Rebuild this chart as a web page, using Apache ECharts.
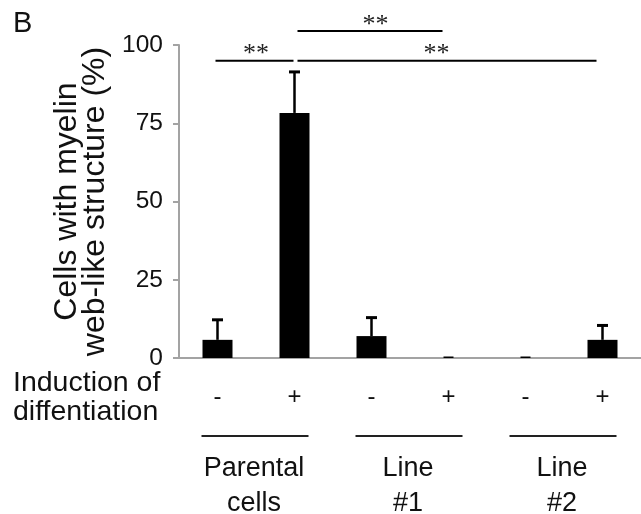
<!DOCTYPE html>
<html>
<head>
<meta charset="utf-8">
<script src="https://cdn.jsdelivr.net/npm/echarts@6/dist/echarts.min.js"></script>
<style>html,body{margin:0;padding:0;background:#fff}#c{width:641px;height:514px}</style>
</head>
<body>
<div id="c"></div>
<script>
// ---- data ----
var categories = ['-', '+', '-', '+', '-', '+'];
var means = [5.8, 78.3, 7.0, 0.4, 0.4, 5.8];
var errors = [6.4, 13.1, 5.9, 0, 0, 4.6];
var yTicks = [0, 25, 50, 75, 100];
var groups = ['Parental\ncells', 'Line\n#1', 'Line\n#2'];
var groupSpans = [[0, 1], [2, 3], [4, 5]];
var sigPairs = [[0, 1], [1, 3], [1, 5]];
var sigLevels = [95, 104.5, 95];
var sigLabels = ['**', '**', '**'];

var FONT = "'Liberation Sans', Arial, Helvetica, sans-serif";
var chart = echarts.init(document.getElementById('c'), null, {renderer: 'canvas'});

var barData = means.map(function (m, i) { return [i, m, errors[i]]; });
var sigData = sigPairs.map(function (p, i) { return [p[0], p[1], sigLevels[i], sigLabels[i]]; });
var groupData = groupSpans.map(function (s, i) { return [s[0], s[1], groups[i]]; });

var option = {
  animation: false,
  backgroundColor: '#fff',
  grid: {left: 179, top: 45, width: 466, height: 313},
  xAxis: {
    type: 'category',
    data: categories,
    axisLine: {lineStyle: {color: '#a3a3a3', width: 2}},
    axisTick: {show: false},
    axisLabel: {color: '#111', fontSize: 24, fontFamily: FONT, margin: 27}
  },
  yAxis: {
    type: 'value',
    min: yTicks[0], max: yTicks[yTicks.length - 1], interval: 25,
    splitLine: {show: false},
    axisLine: {show: true, lineStyle: {color: '#a3a3a3', width: 2}},
    axisTick: {show: true, length: 6, lineStyle: {color: '#a3a3a3', width: 2}},
    axisLabel: {color: '#111', fontSize: 24.5, fontFamily: FONT, margin: 16},
    name: 'Cells with myelin\nweb-like structure (%)',
    nameLocation: 'middle',
    nameRotate: 90,
    nameGap: 66,
    nameTextStyle: {color: '#111', fontSize: 32, fontFamily: FONT, lineHeight: 28}
  },
  graphic: [
    {type: 'text', left: 13, top: 9, style: {text: 'B', fontSize: 29, fontFamily: FONT, fill: '#111'}},
    {type: 'text', left: 13, top: 369, style: {text: 'Induction of\ndiffentiation', fontSize: 28.5, lineHeight: 29, fontFamily: FONT, fill: '#111'}}
  ],
  series: [
    {
      type: 'custom',
      clip: false,
      data: barData,
      renderItem: function (params, api) {
        var i = api.value(0), m = api.value(1), e = api.value(2);
        var base = api.coord([i, 0]);
        var top = api.coord([i, m]);
        var w = m < 1 ? 10 : 30;
        var h = Math.max(base[1] - top[1], 1.5);
        var children = [{
          type: 'rect',
          shape: {x: base[0] - w / 2, y: base[1] - h, width: w, height: h},
          style: {fill: '#000'}
        }];
        if (e > 0) {
          var et = api.coord([i, m + e]);
          children.push({type: 'line', shape: {x1: top[0], y1: top[1], x2: top[0], y2: et[1]}, style: {stroke: '#000', lineWidth: 2.5}});
          children.push({type: 'line', shape: {x1: top[0] - 5.5, y1: et[1], x2: top[0] + 5.5, y2: et[1]}, style: {stroke: '#000', lineWidth: 3}});
        }
        return {type: 'group', children: children};
      }
    },
    {
      type: 'custom',
      clip: false,
      data: sigData,
      renderItem: function (params, api) {
        var a = api.value(0), b = api.value(1), lv = api.value(2);
        var pa = api.coord([a, lv]);
        var pb = api.coord([b, lv]);
        var x1 = pa[0] + (a === 0 ? -2 : 3);
        var x2 = pb[0] - (b === 1 ? 1 : 6);
        var label = sigData[params.dataIndex][3];
        var cx = (pa[0] + pb[0]) / 2 + (b - a > 3 ? -12 : (a > 0 ? 4 : 0));
        return {type: 'group', children: [
          {type: 'line', shape: {x1: x1, y1: pa[1], x2: x2, y2: pa[1]}, style: {stroke: '#000', lineWidth: 2}},
          {type: 'text', x: cx, y: pa[1] - 6,
           style: {text: label, fontSize: 26, fontFamily: "'Liberation Serif', 'Times New Roman', serif", fill: '#222', align: 'center', verticalAlign: 'middle'}}
        ]};
      }
    },
    {
      type: 'custom',
      clip: false,
      data: groupData,
      renderItem: function (params, api) {
        var a = api.value(0), b = api.value(1);
        var pa = api.coord([a, 0]);
        var pb = api.coord([b, 0]);
        var ly = pa[1] + 78;
        var label = groupData[params.dataIndex][2];
        return {type: 'group', children: [
          {type: 'line', shape: {x1: pa[0] - 16, y1: ly, x2: pb[0] + 14, y2: ly}, style: {stroke: '#222', lineWidth: 2}},
          {type: 'text', x: (pa[0] + pb[0]) / 2 - 2, y: pa[1] + 128.5,
           style: {text: label, fontSize: 27, lineHeight: 35, fontFamily: FONT, fill: '#111', align: 'center', verticalAlign: 'middle'}}
        ]};
      }
    }
  ]
};
chart.setOption(option);
</script>
</body>
</html>
